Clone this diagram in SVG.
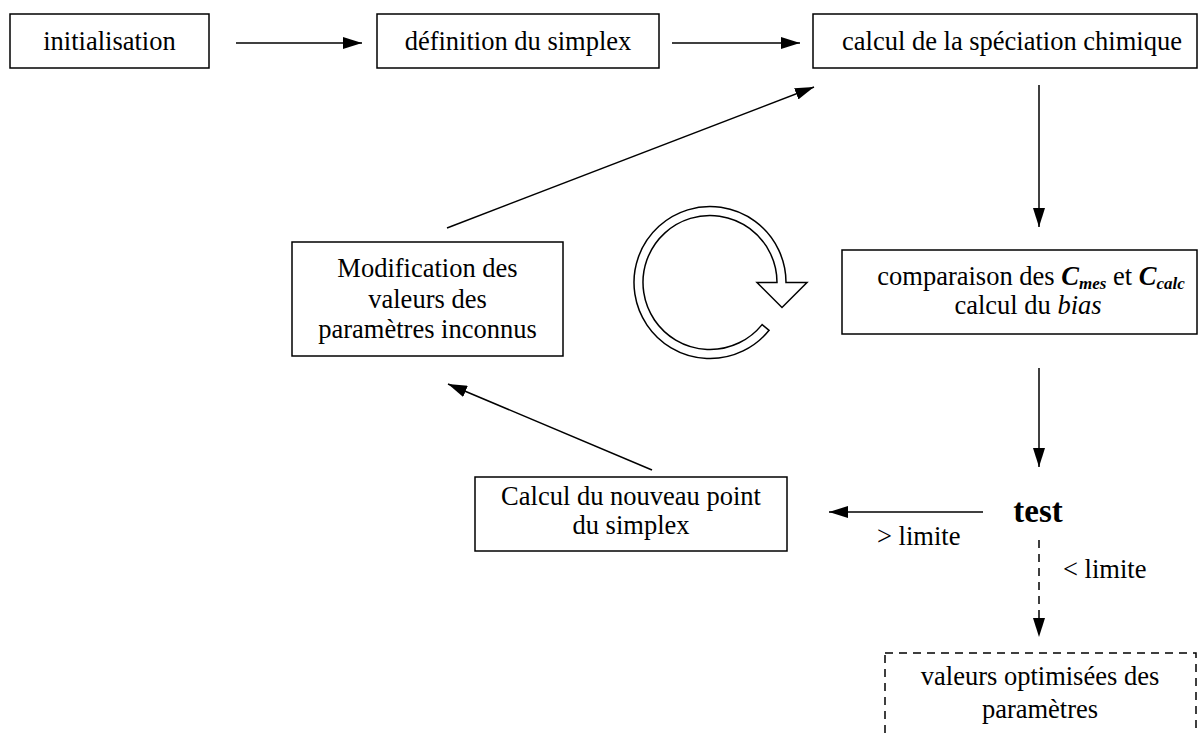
<svg xmlns="http://www.w3.org/2000/svg" width="1203" height="733" viewBox="0 0 1203 733">
<defs>
<style>
.box{fill:#fff;stroke:#000;stroke-width:1.5}
.dash{fill:#fff;stroke:#000;stroke-width:1.5;stroke-dasharray:8 6}
.t{font-family:"Liberation Serif","Times New Roman",serif;font-size:26.5px;fill:#000;text-anchor:middle}
.l{font-family:"Liberation Serif","Times New Roman",serif;font-size:26.5px;fill:#000}
.c{stroke:#000;stroke-width:1.5;fill:none}
.bi{font-weight:bold;font-style:italic}
.sub{font-weight:bold;font-style:italic;font-size:17px}
</style>
<marker id="ah" viewBox="0 0 19 12" refX="19" refY="6" markerWidth="19" markerHeight="12" markerUnits="userSpaceOnUse" orient="auto">
<path d="M0,0 L19,6 L0,12 Z" fill="#000"/>
</marker>
</defs>
<g id="n1"><rect class="box" x="10" y="14" width="199" height="54"/><text class="t" x="109.5" y="50">initialisation</text></g>
<g id="n2"><rect class="box" x="377" y="14" width="282" height="54"/><text class="t" x="518" y="50">définition du simplex</text></g>
<g id="n3"><rect class="box" x="813" y="14" width="384" height="54"/><text class="t" x="1012" y="50">calcul de la spéciation chimique</text></g>
<g id="n4"><rect class="box" x="842" y="250" width="355" height="84"/>
<text class="t" x="1031" y="285">comparaison des <tspan class="bi">C</tspan><tspan class="sub" dy="4">mes</tspan><tspan dy="-4"> et </tspan><tspan class="bi">C</tspan><tspan class="sub" dy="4">calc</tspan></text>
<text class="t" x="1028" y="314">calcul du <tspan font-style="italic">bias</tspan></text></g>
<g id="n5"><text class="t" x="1038" y="522" style="font-weight:bold;font-size:33px">test</text></g>
<g id="n6"><rect class="box" x="475" y="477" width="312" height="74"/><text class="t" x="631" y="505">Calcul du nouveau point</text><text class="t" x="631" y="534">du simplex</text></g>
<g id="n7"><rect class="box" x="292" y="242" width="271" height="114"/><text class="t" x="427.5" y="277">Modification des</text><text class="t" x="427.5" y="308">valeurs des</text><text class="t" x="427.5" y="338">paramètres inconnus</text></g>
<g id="n8"><rect class="dash" x="885" y="653" width="311" height="100"/><text class="t" x="1040" y="685">valeurs optimisées des</text><text class="t" x="1040" y="718">paramètres</text></g>
<g id="cycle"><path class="c" fill="#fff" d="M762.1,324.6 L769.1,330.3 A76,76 0 1 1 786,282.5 L807,282.5 L782,307.5 L757,282.5 L777,282.5 A67,67 0 1 0 762.1,324.6 Z"/></g>
<g id="connectors">
<line class="c" x1="236" y1="43" x2="362" y2="43" marker-end="url(#ah)"/>
<line class="c" x1="672" y1="43" x2="800" y2="43" marker-end="url(#ah)"/>
<line class="c" x1="1039" y1="85" x2="1039" y2="227" marker-end="url(#ah)"/>
<line class="c" x1="1039" y1="368" x2="1039" y2="467" marker-end="url(#ah)"/>
<line class="c" x1="983" y1="512" x2="829" y2="512" marker-end="url(#ah)"/>
<line class="c" x1="1039" y1="540" x2="1039" y2="637" stroke-dasharray="8 6" marker-end="url(#ah)"/>
<line class="c" x1="652" y1="470" x2="448" y2="384" marker-end="url(#ah)"/>
<line class="c" x1="447" y1="228" x2="814" y2="87" marker-end="url(#ah)"/>
<text class="l" x="877" y="545">&gt; limite</text>
<text class="l" x="1063" y="578">&lt; limite</text>
</g>
</svg>
